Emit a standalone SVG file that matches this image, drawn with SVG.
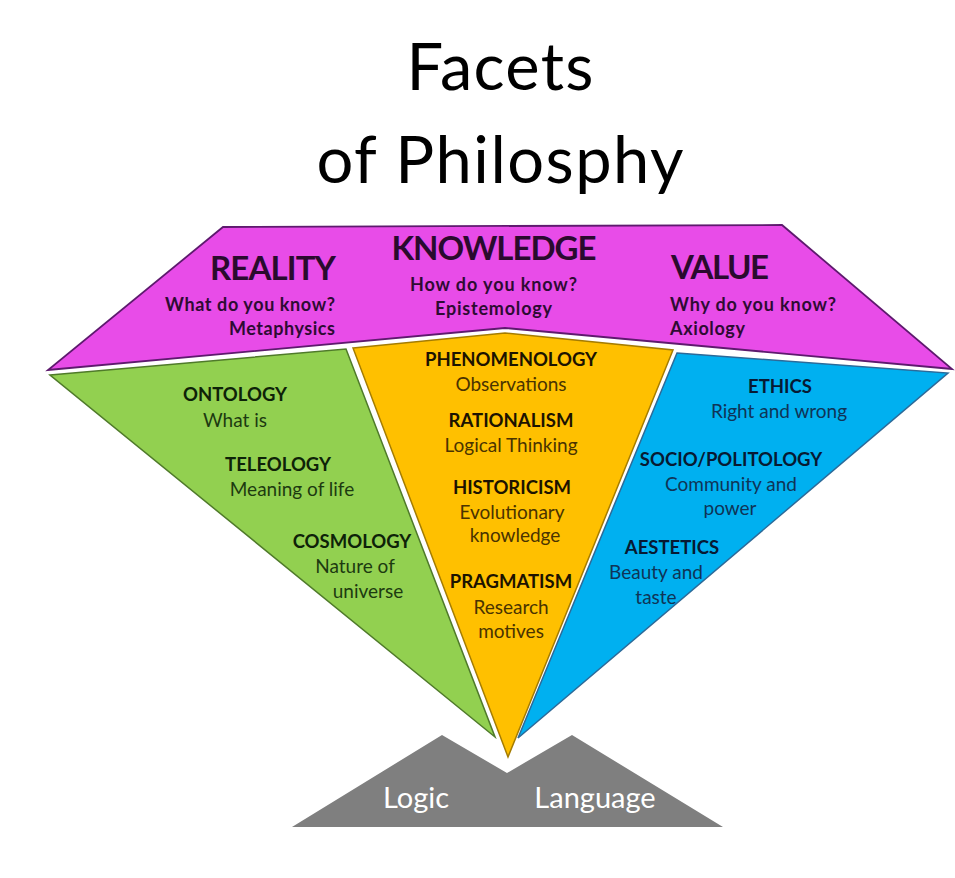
<svg xmlns="http://www.w3.org/2000/svg" width="955" height="878" viewBox="0 0 955 878">
<style>
text{font-family:Lato,"Open Sans","Liberation Sans",sans-serif}
.title{font-size:65px;fill:#000;text-anchor:middle}
.big{font-size:33px;font-weight:bold;fill:#2a0a2e}
.sub{font-size:18px;font-weight:bold;fill:#2e0b33}
.h{font-size:18.5px;font-weight:bold;text-anchor:middle}
.b{font-size:19px;text-anchor:middle}
.g .h{fill:#0e2208}.g .b{fill:#1d3a10}
.o .h{fill:#1c1300}.o .b{fill:#4a3300}
.c .h{fill:#071a33}.c .b{fill:#0f3457}
.base{font-size:29px;fill:#fff;text-anchor:middle}
</style>
<rect width="955" height="878" fill="#fff"/>
<g id="title">
<text class="title" x="500" y="90" textLength="187">Facets</text>
<text class="title" x="500" y="183" textLength="367">of Philosphy</text>
</g>
<g id="magenta">
<polygon points="223,227 782,225 952,369 505,328 48,370" fill="#e84ce8" stroke="#5e1a6e" stroke-width="1.8" stroke-linejoin="miter"/>
<text class="big" x="336" y="280" text-anchor="end" textLength="126">REALITY</text>
<text class="sub" x="335" y="311" text-anchor="end" textLength="170">What do you know?</text>
<text class="sub" x="335" y="335" text-anchor="end" textLength="106">Metaphysics</text>
<text class="big" x="494" y="260" text-anchor="middle" textLength="205">KNOWLEDGE</text>
<text class="sub" x="493.5" y="291" text-anchor="middle" textLength="167">How do you know?</text>
<text class="sub" x="493.5" y="315" text-anchor="middle" textLength="117">Epistemology</text>
<text class="big" x="671" y="279" textLength="98">VALUE</text>
<text class="sub" x="670" y="311" textLength="166">Why do you know?</text>
<text class="sub" x="670" y="335" textLength="75">Axiology</text>
</g>
<g id="reality" class="g">
<polygon points="50,375 346,349 495,737" fill="#92d050" stroke="#4f7a2a" stroke-width="1.5"/>
<text class="h" x="235" y="401">ONTOLOGY</text>
<text class="b" x="235" y="427">What is</text>
<text class="h" x="278" y="471">TELEOLOGY</text>
<text class="b" x="292" y="496">Meaning of life</text>
<text class="h" x="352" y="548">COSMOLOGY</text>
<text class="b" x="355" y="573">Nature of</text>
<text class="b" x="368" y="598">universe</text>
</g>
<g id="knowledge" class="o">
<polygon points="353,348 505,333 673,350 508,757" fill="#ffc000" stroke="#a57c00" stroke-width="1.5"/>
<text class="h" x="511" y="366">PHENOMENOLOGY</text>
<text class="b" x="511" y="391">Observations</text>
<text class="h" x="511" y="427">RATIONALISM</text>
<text class="b" x="511" y="452">Logical Thinking</text>
<text class="h" x="512" y="494">HISTORICISM</text>
<text class="b" x="512" y="519">Evolutionary</text>
<text class="b" x="515" y="542">knowledge</text>
<text class="h" x="511" y="588">PRAGMATISM</text>
<text class="b" x="511" y="614">Research</text>
<text class="b" x="511" y="638">motives</text>
</g>
<g id="value" class="c">
<polygon points="677,353 948,373 518,738" fill="#00b0f0" stroke="#2c6a99" stroke-width="1.5"/>
<text class="h" x="780" y="393">ETHICS</text>
<text class="b" x="779" y="418">Right and wrong</text>
<text class="h" x="731" y="466">SOCIO/POLITOLOGY</text>
<text class="b" x="731" y="491">Community and</text>
<text class="b" x="730" y="515">power</text>
<text class="h" x="672" y="554">AESTETICS</text>
<text class="b" x="656" y="579">Beauty and</text>
<text class="b" x="656" y="604">taste</text>
</g>
<g id="base">
<polygon points="292,827 442,735 507,773 572,735 723,827" fill="#7f7f7f"/>
<text class="base" x="416" y="808">Logic</text>
<text class="base" x="595" y="808">Language</text>
</g>
</svg>
